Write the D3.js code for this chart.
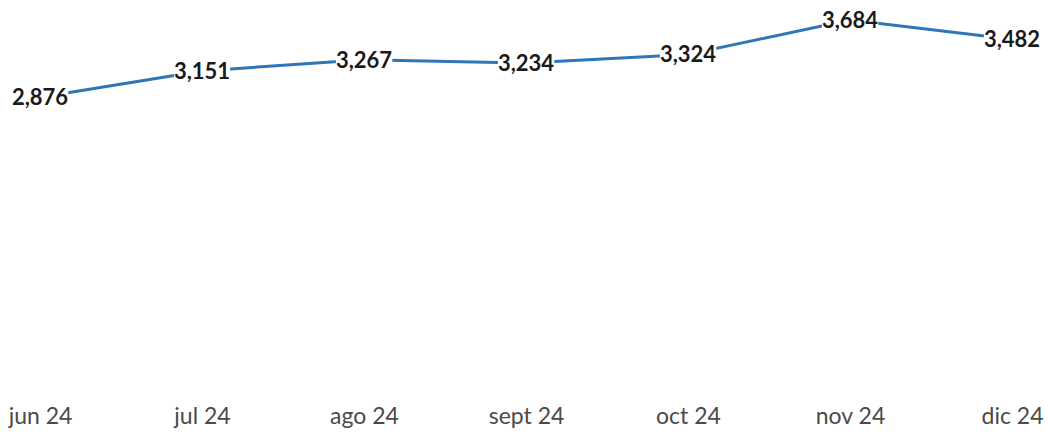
<!DOCTYPE html>
<html><head><meta charset="utf-8">
<script src="https://cdn.jsdelivr.net/npm/d3@7"></script>
<style>
html,body{margin:0;padding:0;background:#fff;}
svg{display:block;}
</style></head>
<body>
<svg id="chart" width="1048" height="436"></svg>
<script>
const categories = ["jun 24","jul 24","ago 24","sept 24","oct 24","nov 24","dic 24"];
const values = [2876, 3151, 3267, 3234, 3324, 3684, 3482];

const svg = d3.select("#chart");
const x = d3.scalePoint().domain(categories).range([40, 1012]);
const y = d3.scaleLinear().domain([0, 3684]).range([372, 20]);
const fmt = d3.format(",");

const data = categories.map((c,i)=>({c, v: values[i]}));

svg.append("path")
  .datum(data)
  .attr("fill","none")
  .attr("stroke","#2f76b8")
  .attr("stroke-width",3)
  .attr("stroke-linejoin","round")
  .attr("d", d3.line().x(d=>x(d.c)).y(d=>y(d.v)));

const lg = svg.append("g");
const labels = lg.selectAll("g").data(data).join("g");
const bgs = labels.append("rect").attr("fill","#fff");
const txt = labels.append("text")
  .attr("x", d=>x(d.c))
  .attr("y", d=>y(d.v))
  .attr("dy","0.35em")
  .attr("text-anchor","middle")
  .attr("font-family","Lato, 'Open Sans', sans-serif")
  .attr("font-size",22)
  .attr("font-weight",700)
  .attr("fill","#1a1a1a")
  .text(d=>fmt(d.v));
txt.each(function(){
  const b = this.getBBox();
  d3.select(this.previousSibling)
    .attr("x", b.x).attr("y", b.y + 3)
    .attr("width", b.width).attr("height", b.height - 6);
});

const xAxis = d3.axisBottom(x).tickSize(0).tickPadding(0);
const gx = svg.append("g").attr("transform","translate(0,408)").call(xAxis);
gx.select(".domain").remove();
gx.selectAll("text")
  .attr("font-family","Lato, 'Open Sans', sans-serif")
  .attr("font-size",23)
  .attr("fill","#4a4a4a")
  .attr("dy","0.71em");
</script>
</body></html>
